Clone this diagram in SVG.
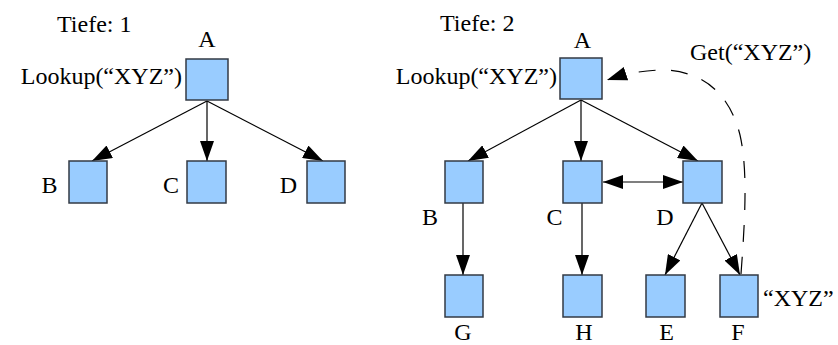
<svg xmlns="http://www.w3.org/2000/svg" width="838" height="345" viewBox="0 0 838 345" font-family="'Liberation Serif', 'DejaVu Serif', serif">
<style>
text{font-family:"Liberation Serif","DejaVu Serif",serif;font-size:24px;fill:#000}
.lbl{text-anchor:middle}
.box{fill:#99ccff;stroke:#333a44;stroke-width:1.5}
.ln{stroke:#000;stroke-width:1.2;fill:none}
.dash{stroke:#000;stroke-width:1.2;fill:none;stroke-dasharray:17 15}
</style>
<defs>
<marker id="ah" markerUnits="userSpaceOnUse" markerWidth="20" markerHeight="14" refX="20" refY="7" orient="auto-start-reverse">
<path d="M0,0 L20,7 L0,14 z" fill="#000"/>
</marker>
</defs>
<rect width="838" height="345" fill="#fff"/>
<text x="57" y="32">Tiefe: 1</text>
<text x="440" y="31">Tiefe: 2</text>
<g id="connectors">
<line class="ln" x1="207" y1="101" x2="92" y2="161" marker-end="url(#ah)"/>
<line class="ln" x1="207" y1="101" x2="207" y2="161" marker-end="url(#ah)"/>
<line class="ln" x1="207" y1="101" x2="323" y2="161" marker-end="url(#ah)"/>
<line class="ln" x1="581" y1="100" x2="468" y2="161" marker-end="url(#ah)"/>
<line class="ln" x1="581" y1="100" x2="581" y2="161" marker-end="url(#ah)"/>
<line class="ln" x1="581" y1="100" x2="698" y2="161" marker-end="url(#ah)"/>
<line class="ln" x1="603" y1="182" x2="683" y2="182" marker-start="url(#ah)" marker-end="url(#ah)"/>
<line class="ln" x1="463" y1="203" x2="463" y2="275" marker-end="url(#ah)"/>
<line class="ln" x1="582" y1="203" x2="582" y2="275" marker-end="url(#ah)"/>
<line class="ln" x1="702" y1="203" x2="665" y2="275" marker-end="url(#ah)"/>
<line class="ln" x1="702" y1="203" x2="740" y2="275" marker-end="url(#ah)"/>
<path class="dash" d="M741,274 C745,220 748,170 740,135 C730,95 705,72 665,70 C640,70 622,75 607,80" marker-end="url(#ah)"/>
</g>
<g id="L-A"><rect class="box" x="186" y="59" width="42" height="41"/><text class="lbl" x="207" y="47">A</text><text x="182" y="84" text-anchor="end">Lookup(“XYZ”)</text></g>
<g id="L-B"><rect class="box" x="69" y="161" width="38" height="42"/><text class="lbl" x="49.5" y="193">B</text></g>
<g id="L-C"><rect class="box" x="187" y="161" width="39" height="42"/><text class="lbl" x="171" y="193">C</text></g>
<g id="L-D"><rect class="box" x="307" y="161" width="38" height="42"/><text class="lbl" x="288.5" y="193">D</text></g>
<g id="R-A"><rect class="box" x="560" y="58" width="42" height="41"/><text class="lbl" x="582.5" y="48">A</text><text x="557" y="84" text-anchor="end">Lookup(“XYZ”)</text></g>
<g id="R-B"><rect class="box" x="445" y="161" width="38" height="42"/><text class="lbl" x="430" y="225">B</text></g>
<g id="R-C"><rect class="box" x="563" y="161" width="39" height="42"/><text class="lbl" x="554.5" y="225">C</text></g>
<g id="R-D"><rect class="box" x="683" y="161" width="39" height="42"/><text class="lbl" x="665" y="225">D</text></g>
<g id="R-G"><rect class="box" x="445" y="275" width="38" height="42"/><text class="lbl" x="463" y="340">G</text></g>
<g id="R-H"><rect class="box" x="563" y="275" width="39" height="42"/><text class="lbl" x="584" y="340">H</text></g>
<g id="R-E"><rect class="box" x="646" y="275" width="39" height="42"/><text class="lbl" x="666.5" y="340">E</text></g>
<g id="R-F"><rect class="box" x="720" y="275" width="38" height="42"/><text class="lbl" x="738" y="340">F</text><text x="763" y="306">“XYZ”</text></g>
<g id="get-label"><text x="690" y="60">Get(“XYZ”)</text></g>
</svg>
